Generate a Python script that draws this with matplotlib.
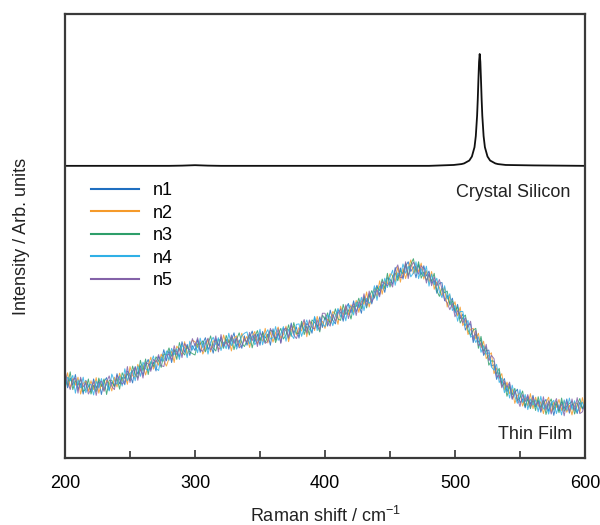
import numpy as np
import matplotlib
matplotlib.use('Agg')
import matplotlib.pyplot as plt
from matplotlib.ticker import MultipleLocator

plt.rcParams['font.family'] = ['Liberation Sans', 'DejaVu Sans']
plt.rcParams['mathtext.default'] = 'regular'
plt.rcParams['font.size'] = 13

# crystal silicon reference spectrum (offset upward)
si_shift = [200, 280, 290, 300, 310, 320, 400, 480, 499, 505, 507, 511, 513, 515, 516,
            517, 517.5, 518, 518.5, 519, 519.5, 520, 520.5, 521, 522, 523, 525, 527,
            531, 533, 539, 560, 600]
si_counts = [658, 658, 658.5, 659.5, 658.5, 658, 658, 658, 660, 662, 663.5, 670, 679, 700, 725,
             771, 807, 851, 892, 910, 892, 851, 807, 771, 725, 700, 679, 670,
             663.5, 662, 660, 659, 658]

# thin film spectra, 200-600 cm-1 in 2 cm-1 steps
film_shift = np.arange(200, 601, 2)

n1 = [188, 158, 180, 164, 188, 154, 168, 144, 175, 162,
      150, 178, 157, 174, 143, 172, 181, 153, 171, 162,
      190, 167, 182, 165, 196, 188, 169, 206, 189, 208,
      186, 209, 222, 199, 216, 196, 229, 218, 244, 219,
      242, 215, 241, 240, 228, 262, 238, 256, 231, 253,
      242, 267, 238, 258, 271, 244, 257, 236, 269, 253,
      272, 253, 268, 245, 265, 282, 251, 266, 247, 275,
      254, 271, 286, 261, 279, 254, 285, 270, 279, 254,
      291, 266, 281, 260, 292, 287, 268, 304, 281, 295,
      270, 302, 286, 303, 297, 281, 317, 293, 318, 294,
      318, 297, 333, 310, 302, 333, 328, 308, 337, 348,
      327, 354, 329, 346, 326, 364, 352, 370, 347, 374,
      389, 367, 391, 373, 406, 403, 391, 429, 405, 428,
      403, 432, 442, 420, 431, 406, 436, 413, 433, 410,
      421, 394, 400, 371, 394, 395, 354, 366, 348, 360,
      326, 346, 314, 324, 288, 300, 302, 260, 280, 261,
      266, 231, 242, 243, 207, 210, 177, 194, 168, 179,
      149, 167, 134, 147, 155, 124, 133, 113, 139, 121,
      141, 115, 130, 103, 122, 132, 105, 125, 96, 122,
      106, 127, 111, 133, 101, 121, 117, 100, 126, 110,
      127]

n2 = [168, 192, 158, 180, 164, 182, 144, 168, 173, 150,
      174, 154, 181, 146, 167, 152, 175, 169, 151, 182,
      160, 191, 172, 189, 166, 206, 185, 182, 211, 196,
      210, 187, 208, 227, 200, 220, 209, 234, 220, 207,
      224, 241, 215, 252, 244, 232, 262, 232, 255, 265,
      262, 249, 262, 234, 247, 268, 239, 264, 261, 245,
      248, 277, 256, 267, 241, 270, 275, 250, 281, 263,
      274, 249, 274, 285, 257, 272, 263, 292, 259, 284,
      261, 282, 295, 270, 278, 297, 262, 288, 297, 277,
      294, 286, 308, 273, 307, 305, 287, 319, 298, 308,
      292, 313, 305, 330, 324, 301, 342, 322, 341, 322,
      345, 328, 355, 328, 354, 346, 374, 340, 365, 382,
      363, 399, 369, 399, 392, 415, 411, 397, 431, 396,
      427, 404, 428, 446, 415, 432, 420, 439, 403, 422,
      395, 420, 380, 397, 384, 365, 384, 340, 366, 338,
      352, 320, 340, 298, 310, 278, 290, 292, 268, 281,
      248, 263, 224, 231, 237, 190, 203, 180, 190, 153,
      171, 145, 156, 123, 141, 146, 117, 137, 117, 145,
      111, 137, 116, 127, 100, 124, 137, 103, 126, 114,
      132, 107, 129, 103, 119, 97, 125, 122, 102, 136,
      109]

n3 = [180, 164, 194, 154, 174, 164, 178, 150, 155, 178,
      144, 164, 149, 180, 161, 178, 143, 175, 175, 160,
      180, 155, 192, 179, 190, 174, 207, 188, 181, 220,
      196, 223, 188, 217, 206, 228, 219, 204, 234, 233,
      248, 229, 245, 222, 260, 240, 232, 252, 239, 235,
      232, 257, 256, 264, 239, 256, 275, 248, 241, 267,
      264, 247, 276, 259, 273, 244, 267, 282, 259, 251,
      264, 279, 248, 273, 287, 264, 281, 260, 275, 288,
      285, 260, 279, 292, 268, 277, 300, 274, 305, 281,
      280, 308, 278, 297, 277, 311, 305, 299, 284, 322,
      312, 327, 301, 314, 336, 313, 310, 346, 323, 334,
      313, 342, 341, 360, 336, 362, 338, 362, 377, 360,
      385, 377, 403, 381, 416, 385, 409, 417, 399, 422,
      415, 438, 410, 436, 449, 418, 442, 405, 419, 400,
      413, 398, 416, 377, 364, 383, 372, 376, 344, 354,
      332, 340, 304, 316, 322, 288, 276, 288, 292, 247,
      274, 241, 250, 209, 219, 218, 189, 202, 162, 169,
      139, 161, 142, 157, 129, 136, 151, 117, 133, 111,
      131, 107, 138, 113, 130, 98, 121, 133, 108, 128,
      102, 135, 105, 117, 123, 127, 99, 120, 134, 112,
      121]

n4 = [158, 182, 174, 186, 146, 176, 158, 182, 147, 164,
      166, 142, 173, 158, 179, 156, 167, 151, 189, 174,
      166, 185, 162, 201, 174, 190, 197, 174, 207, 184,
      216, 201, 196, 213, 230, 202, 197, 228, 218, 241,
      220, 247, 233, 246, 222, 254, 248, 226, 263, 243,
      258, 237, 270, 248, 263, 234, 261, 272, 255, 271,
      242, 261, 246, 281, 253, 268, 245, 260, 275, 281,
      284, 257, 276, 255, 265, 290, 255, 278, 289, 268,
      271, 296, 265, 280, 296, 263, 290, 278, 269, 301,
      302, 274, 294, 311, 289, 287, 319, 287, 312, 302,
      296, 321, 319, 298, 320, 337, 318, 334, 309, 344,
      341, 322, 351, 338, 362, 332, 360, 348, 357, 388,
      355, 387, 381, 405, 384, 407, 423, 389, 417, 410,
      437, 416, 432, 408, 417, 442, 404, 427, 409, 432,
      387, 414, 390, 405, 374, 361, 388, 358, 370, 332,
      344, 308, 330, 330, 298, 310, 272, 276, 260, 273,
      238, 253, 234, 237, 205, 198, 211, 170, 180, 147,
      163, 135, 164, 139, 123, 154, 125, 143, 109, 133,
      119, 131, 104, 139, 110, 120, 99, 123, 130, 100,
      120, 97, 131, 107, 135, 109, 129, 104, 114, 126,
      105]

n5 = [198, 170, 154, 176, 180, 146, 182, 160, 169, 144,
      156, 172, 141, 168, 173, 150, 171, 185, 161, 154,
      186, 177, 166, 173, 206, 170, 195, 204, 175, 202,
      180, 215, 212, 195, 222, 216, 233, 208, 206, 231,
      234, 221, 253, 232, 248, 226, 258, 248, 243, 269,
      252, 271, 244, 240, 257, 270, 243, 252, 275, 239,
      278, 251, 262, 251, 277, 258, 271, 248, 253, 269,
      260, 283, 264, 279, 251, 282, 273, 258, 263, 292,
      277, 270, 291, 258, 288, 293, 272, 300, 277, 269,
      286, 298, 312, 281, 311, 293, 291, 311, 288, 326,
      326, 305, 297, 324, 308, 325, 336, 314, 345, 314,
      335, 348, 321, 352, 344, 370, 342, 376, 351, 364,
      379, 363, 397, 393, 388, 397, 385, 423, 435, 406,
      407, 442, 404, 430, 441, 428, 414, 433, 425, 394,
      417, 388, 408, 387, 402, 381, 356, 350, 334, 348,
      318, 332, 322, 304, 316, 294, 308, 266, 288, 253,
      258, 235, 256, 219, 231, 224, 183, 186, 158, 173,
      159, 171, 132, 151, 133, 116, 143, 127, 143, 115,
      137, 119, 126, 107, 138, 108, 129, 99, 118, 134,
      110, 121, 95, 127, 105, 133, 107, 136, 100, 104,
      123]

film_labels = ['n1', 'n2', 'n3', 'n4', 'n5']
film_colors = ['#1f6fc0', '#f59a2a', '#2e9e6a', '#2fb0e6', '#8462a8']

fig = plt.figure(figsize=(6, 5.25), dpi=100)
ax = fig.add_axes([65 / 600, 1 - 458 / 525, 520 / 600, 444 / 525])

for y, lab, col in zip([n1, n2, n3, n4, n5], film_labels, film_colors):
    ax.plot(film_shift, y, color=col, lw=0.7, alpha=0.85, label=lab)

ax.plot(si_shift, si_counts, color='#111111', lw=1.3)

ax.set_xlim(200, 600)
ax.set_ylim(0, 1000)
ax.xaxis.set_major_locator(MultipleLocator(100))
ax.xaxis.set_minor_locator(MultipleLocator(50))
ax.tick_params(axis='x', which='both', direction='in', top=False, pad=12,
               color='#333333', width=1.2)
ax.tick_params(axis='x', which='major', length=6)
ax.tick_params(axis='x', which='minor', length=5)
ax.set_yticks([])
for sp in ax.spines.values():
    sp.set_color('#3a3a3a')
    sp.set_linewidth(1.6)

ax.set_xlabel('Raman shift / cm$^{-1}$', labelpad=10, color='#222222')
ax.set_ylabel('Intensity / Arb. units', labelpad=25, color='#222222')

ax.text(0.971, 0.599, 'Crystal Silicon', transform=ax.transAxes,
        ha='right', va='center', color='#222222')
ax.text(0.975, 0.052, 'Thin Film', transform=ax.transAxes,
        ha='right', va='center', color='#222222')

leg = ax.legend(loc='upper left', bbox_to_anchor=(0.05, 0.621), frameon=False,
                borderpad=0, borderaxespad=0, handlelength=2.67,
                handletextpad=0.78, labelspacing=0.3)
for line in leg.get_lines():
    line.set_linewidth(1.5)
    line.set_alpha(1)

fig.savefig('out.png', dpi=100)
